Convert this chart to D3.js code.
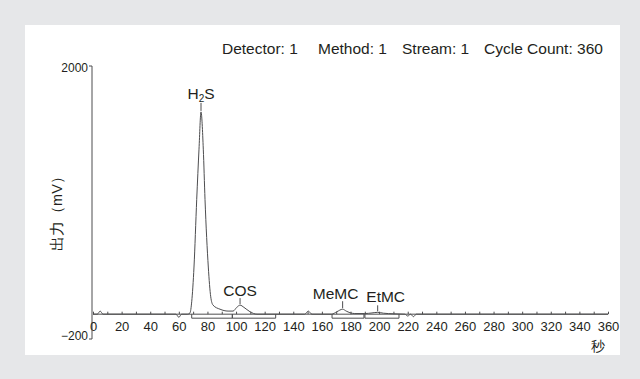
<!DOCTYPE html>
<html>
<head>
<meta charset="utf-8">
<script src="https://cdn.jsdelivr.net/npm/d3@7"></script>
<style>
html,body{margin:0;padding:0;background:#e6e7e9;}
svg{display:block;}
text{font-family:"Liberation Sans",Arial,sans-serif;fill:#231f20;}
</style>
</head>
<body>
<svg id="chart" width="640" height="379"></svg>
<script>
// ---- data ----
const times  = [0, 3, 5, 7, 20, 40, 58, 60, 62, 66, 67.8, 69, 70.6, 72.5, 74.1, 75.5, 77.1, 78.3, 80.6, 82.3, 83.9, 88.8, 94.4, 97.9, 100.5, 102.8, 105.5, 109.7, 114.6, 148, 150.5, 153, 166.8, 170.5, 174.5, 177, 179.6, 183, 190, 195, 199, 203, 210, 218, 220, 222, 224, 226, 230, 360];
const signal = [0, 0, 25, 0, 0, 0, 0, -25, 0, 0, 10, 100, 380, 925, 1330, 1630, 1330, 925, 380, 140, 73, 40, 25, 25, 55, 73, 55, 20, 0, 0, 25, 0, 0, 20, 40, 25, 12, 5, 5, 10, 15, 8, 3, 0, -15, 0, -20, 0, 0, 0];

const peakNames  = ["H2S", "COS", "MeMC", "EtMC"];
const peakTimes  = [75.5, 102.8, 174.5, 199];
const peakHeights= [1630, 73, 40, 15];

// integration windows (start, end) in seconds
const windowStart = [69.0, 97.4, 167.1, 190.1];
const windowEnd   = [97.4, 127.7, 189.4, 213.9];

const xTickLabels = d3.range(0, 361, 20);
const xMinorTicks = d3.range(0, 361, 10);
const yTickLabels = [2000, -200];

const headerItems = ["Detector: 1", "Method: 1", "Stream: 1", "Cycle Count: 360"];
const yTitle = "出力（mV）";
const xTitle = "秒";

// ---- drawing ----
const svg = d3.select("#chart");
svg.append("rect").attr("x", 25).attr("y", 25).attr("width", 595).attr("height", 330).attr("fill", "#ffffff");

const x = d3.scaleLinear().domain([0, 360]).range([93, 608]);
const y = d3.scaleLinear().domain([-200, 2000]).range([339, 66]);

const lineCol = "#4d4d4f";

// header
const headerX = [222, 318, 402, 484];
headerItems.forEach((t, i) => {
  svg.append("text").attr("x", headerX[i]).attr("y", 54).attr("font-size", 15.5).text(t);
});

// y axis
const yAxis = d3.axisLeft(y).tickValues(yTickLabels).tickSize(3).tickPadding(1).tickFormat(d3.format("d"));
const gy = svg.append("g").attr("transform", "translate(92,0)").call(yAxis);
gy.select(".domain").attr("stroke", lineCol).attr("d", "M-3,66H0V339H-3");
gy.selectAll(".tick line").remove();
gy.selectAll("text").attr("font-size", 12).attr("font-family", "Liberation Sans, Arial, sans-serif").attr("fill", "#231f20")
  .attr("transform", d => `translate(0,${d > 0 ? 2 : -3})`);

// x axis minor ticks
const gxm = svg.append("g").attr("transform", `translate(0,${y(0)})`)
  .call(d3.axisBottom(x).tickValues(xMinorTicks).tickSize(-2.5).tickFormat(""));
gxm.select(".domain").attr("stroke", lineCol).attr("d", `M${x(0)},0H${x(360)}`);
gxm.selectAll(".tick line").attr("stroke", lineCol);

// x axis labels
const gx = svg.append("g").attr("transform", `translate(0,${y(0)})`)
  .call(d3.axisBottom(x).tickValues(xTickLabels).tickSize(0).tickPadding(8).tickFormat(d3.format("d")));
gx.select(".domain").remove();
gx.selectAll("text").attr("font-size", 13).attr("font-family", "Liberation Sans, Arial, sans-serif").attr("fill", "#231f20");

// integration brackets
const y0 = y(0);
windowStart.forEach((s, i) => {
  const e = windowEnd[i];
  svg.append("path")
    .attr("d", `M${x(s)},${y0}V${y0 + 4}H${x(e)}V${y0}`)
    .attr("fill", "none").attr("stroke", lineCol).attr("stroke-width", 1);
});

// chromatogram
const pts = times.map((t, i) => [t, signal[i]]);
svg.append("path")
  .attr("d", d3.line().x(d => x(d[0])).y(d => y(d[1])).curve(d3.curveMonotoneX)(pts))
  .attr("fill", "none").attr("stroke", lineCol).attr("stroke-width", 1);

// peak markers and labels (style offsets)
const markerLen = [8, 6, 7, 6];
const labelGap  = [4, 2, 2, 3];
const labelShift= [0, 0, -7, 8];
peakNames.forEach((n, i) => {
  const px = x(peakTimes[i]);
  const top = y(peakHeights[i]) - 1;
  const mTop = top - markerLen[i];
  svg.append("line").attr("x1", px).attr("x2", px).attr("y1", mTop).attr("y2", top)
    .attr("stroke", lineCol).attr("stroke-width", 1);
  const t = svg.append("text").attr("x", px + labelShift[i]).attr("y", mTop - labelGap[i])
    .attr("text-anchor", "middle").attr("font-size", 15.5);
  if (n === "H2S") {
    t.append("tspan").text("H");
    t.append("tspan").text("2").attr("font-size", 10).attr("dy", 3);
    t.append("tspan").text("S").attr("dy", -3);
  } else {
    t.text(n);
  }
});

// axis titles
svg.append("text").attr("transform", "translate(62,210) rotate(-90)")
  .attr("text-anchor", "middle").attr("font-size", 14.5)
  .attr("font-family", "Noto Sans CJK JP, sans-serif").text(yTitle);
svg.append("text").attr("x", 598).attr("y", 351).attr("text-anchor", "middle").attr("font-size", 13.5)
  .attr("font-family", "Noto Sans CJK JP, sans-serif").text(xTitle);
</script>
</body>
</html>
